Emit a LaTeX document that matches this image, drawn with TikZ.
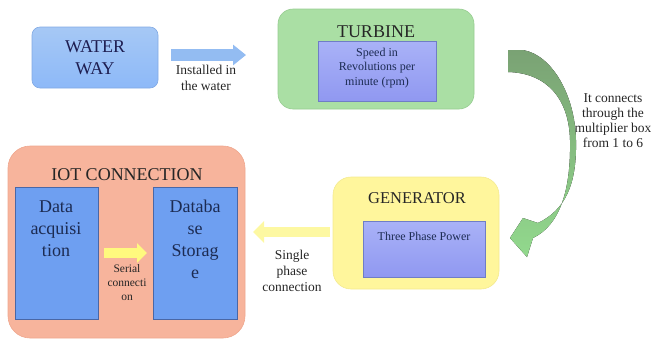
\documentclass[tikz,border=0pt]{standalone}
\usepackage{fontspec}
\setmainfont{Liberation Serif}
\usetikzlibrary{arrows.meta}
\tikzset{>=latex}
\definecolor{watertop}{HTML}{A6C8F5}
\definecolor{waterbot}{HTML}{8DB9F8}
\definecolor{arrowblue}{HTML}{93BCF2}
\definecolor{turbfill}{HTML}{AADFA4}
\definecolor{turbline}{HTML}{97CC91}
\definecolor{violettop}{HTML}{A9B2F7}
\definecolor{violetbot}{HTML}{9098F1}
\definecolor{violetline}{HTML}{6F7DC6}
\definecolor{genfill}{HTML}{FFF69C}
\definecolor{genline}{HTML}{F4EA90}
\definecolor{paleyellow}{HTML}{FDF8A2}
\definecolor{serialyellow}{HTML}{FFF97E}
\definecolor{iotfill}{HTML}{F7B49C}
\definecolor{iotline}{HTML}{EFA78E}
\definecolor{datafill}{HTML}{6E9FF1}
\definecolor{dataline}{HTML}{4A67A6}
\definecolor{curvetop}{HTML}{7AA274}
\definecolor{curvebot}{HTML}{92D98D}
\definecolor{txtdark}{HTML}{262626}
\definecolor{txtnavy}{HTML}{1C2B52}
\newcommand{\bigtxt}{\fontsize{18}{21.5}\selectfont}
\newcommand{\smalltxt}{\fontsize{13.5}{16}\selectfont}
\newcommand{\boxtxt}{\fontsize{12}{14.5}\selectfont}

\begin{document}
\begin{tikzpicture}[x=1pt,y=-1pt,
  outerbox/.style={rounded corners=#1, inner sep=0pt, line width=0.6pt},
  innerbox/.style={draw=violetline, top color=violettop, bottom color=violetbot,
    inner sep=0pt, line width=0.6pt},
  databox/.style={draw=dataline, fill=datafill, inner sep=0pt, line width=0.7pt,
    minimum height=132pt},
  title/.style={font=\bigtxt, text=txtdark, inner sep=0pt},
  note/.style={font=\smalltxt, text=txtdark, align=center, inner sep=0pt},
  datatext/.style={font=\fontsize{18}{22.2}\selectfont, text=txtnavy, align=center, inner sep=0pt}]
  \useasboundingbox (0,0) rectangle (651,341);
  % water way
  \node[outerbox=8pt, top color=watertop, bottom color=waterbot, draw=waterbot!92!black,
    minimum width=126pt, minimum height=61pt, font=\bigtxt, text=txtdark!80!blue,
    align=center] (waterway) at (95,57.5) {WATER\\WAY};
  % turbine
  \node[outerbox=15pt, fill=turbfill, draw=turbline, minimum width=196pt,
    minimum height=100pt] (turbine) at (376,59) {};
  \node[title] (turbinetitle) at (376,31.5) {TURBINE};
  \node[innerbox, minimum width=118pt, minimum height=60pt] (rpm) at (377,71) {};
  \node[note, font=\boxtxt, text=txtnavy] (rpmtext) at (377,68)
    {Speed in\\Revolutions per\\minute (rpm)};
  % generator
  \node[outerbox=18pt, fill=genfill, draw=genline, minimum width=166pt,
    minimum height=112pt] (generator) at (416,233) {};
  \node[title, font=\fontsize{16.5}{20}\selectfont] (gentitle) at (417,198) {GENERATOR};
  \node[innerbox, minimum width=122pt, minimum height=56pt] (threephase) at (424,249) {};
  \node[note, font=\boxtxt, text=txtnavy] (threephasetext) at (424,236) {Three Phase Power};
  % iot connection
  \node[outerbox=22pt, fill=iotfill, draw=iotline, minimum width=237pt,
    minimum height=192pt] (iot) at (126.5,242) {};
  \node[title] (iottitle) at (127,175) {IOT CONNECTION};
  \node[databox, minimum width=83pt] (acq) at (56.5,253) {};
  \node[datatext] (acqtext) at (56,228.5) {Data\\acquisi\\tion};
  \node[databox, minimum width=84pt] (storage) at (195,253) {};
  \node[datatext] (storagetext) at (195,239.5) {Databa\\se\\Storag\\e};
  % block arrows
  \coordinate (installA) at (171,55);
  \coordinate (installB) at (246,55);
  \draw[line width=12pt, draw=arrowblue, -{Triangle[length=13pt,width=20pt]}]
    (installA) -- (installB);
  \node[note] (installtext) at (206,77.5) {Installed in\\the water};
  \coordinate (phaseA) at (330,232);
  \coordinate (phaseB) at (253,232);
  \draw[line width=10pt, draw=paleyellow, -{Triangle[length=11pt,width=21pt]}]
    (phaseA) -- (phaseB);
  \node[note] (phasetext) at (292,270.5) {Single\\phase\\connection};
  \coordinate (serialA) at (104,253);
  \coordinate (serialB) at (147,253);
  \draw[line width=10pt, draw=serialyellow, -{Triangle[length=10pt,width=19pt]}]
    (serialA) -- (serialB);
  \node[note, font=\fontsize{11.5}{14}\selectfont] (serialtext) at (127,283)
    {Serial\\connecti\\on};
  % multiplier
  \node[note, font=\fontsize{13.5}{14.8}\selectfont] (multitext) at (613,120.5)
    {It connects\\through the\\multiplier box\\from 1 to 6};
  \fill[top color=curvetop, bottom color=curvebot]
    (508,50) -- (523,50) .. controls (552,55) and (575,95) .. (576,140)
    .. controls (577,185) and (565,210) .. (538,223) -- (523,218) -- (510,238)
    -- (527,257) -- (533,238) .. controls (560,225) and (571,190) .. (570,140)
    .. controls (569,100) and (548,73) .. (508,72) -- cycle;
\end{tikzpicture}
\end{document}
